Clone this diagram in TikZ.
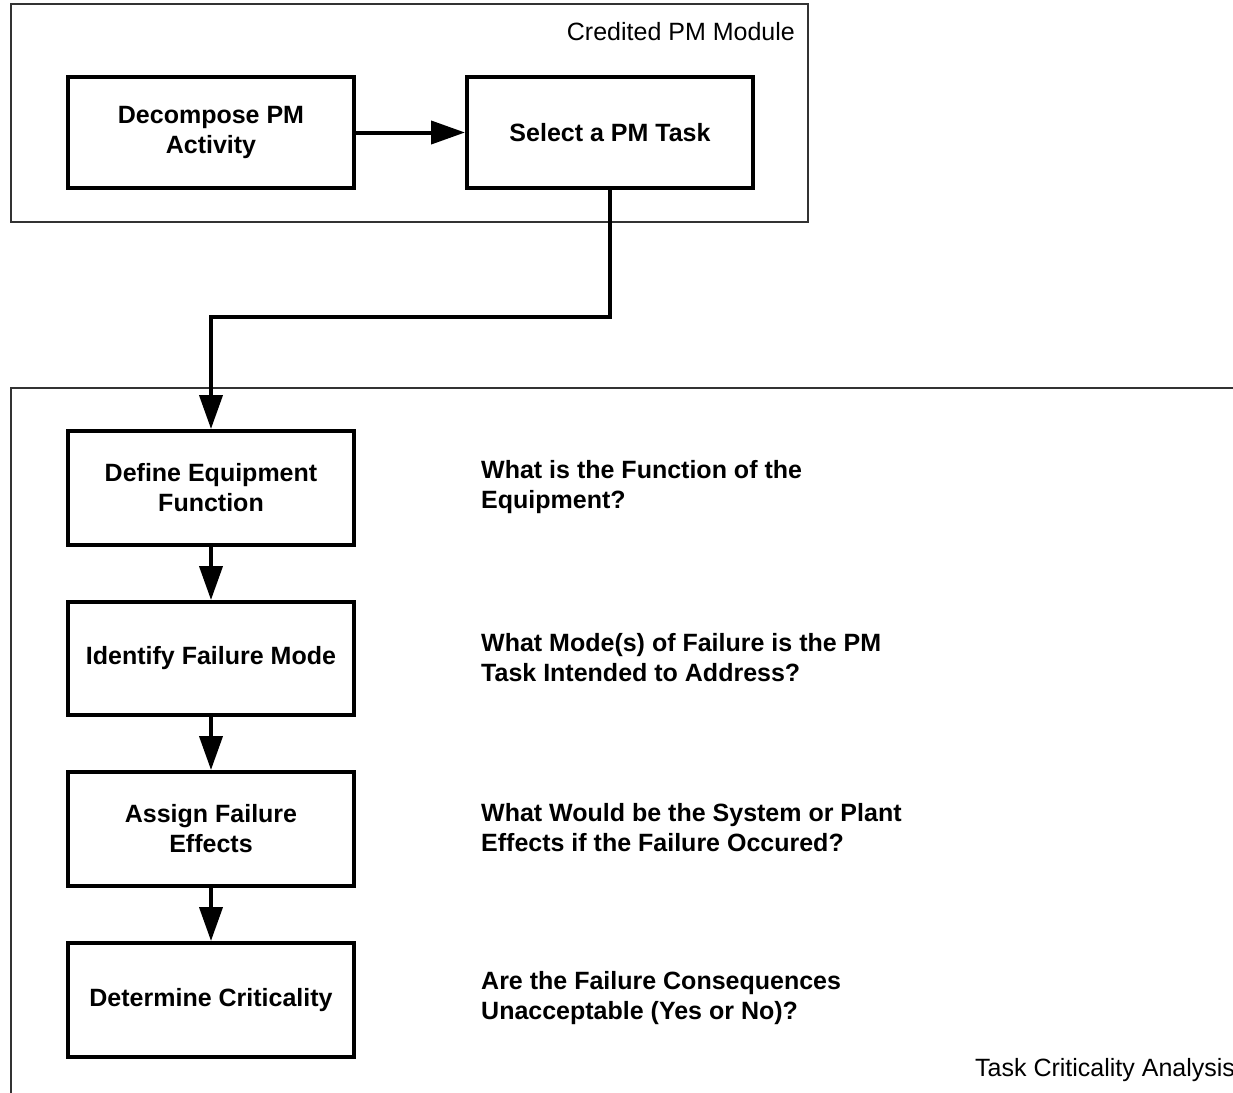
\documentclass[tikz,border=0pt]{standalone}
\usepackage{fontspec}
\setmainfont{Liberation Sans}
\usetikzlibrary{arrows.meta}
\tikzset{
  procbox/.style={draw=black, line width=4pt, minimum width=286pt, minimum height=112pt,
    inner sep=0pt, align=center, font=\fontsize{25}{30}\selectfont\bfseries, fill=white},
  flow/.style={line width=4pt, -{Triangle[length=34pt,width=23pt]}},
  group/.style={draw=black!80, line width=1.2pt},
  qtext/.style={anchor=west, align=left, inner sep=0pt, font=\fontsize{25}{30}\selectfont\bfseries},
  ltext/.style={inner sep=0pt, font=\fontsize{25}{30}\selectfont}
}
\begin{document}
\begin{tikzpicture}[x=1pt,y=-1pt]
\useasboundingbox (0,0) rectangle (1233,1092);
\clip (0,0) rectangle (1233,1092);
% containers
\draw[group] (11,4) rectangle (808,222);
\draw[group] (11,1110) -- (11,388) -- (1250,388);
\node[ltext, anchor=east] (lbltop) at (795,32) {Credited PM Module};
\node[ltext, anchor=west] (lblbot) at (975,1070) {Task Criticality Analysis};
% boxes
\node[procbox, minimum height=111pt] (decomp) at (211,132.5) {Decompose PM\\Activity};
\node[procbox, minimum height=111pt] (select) at (610,132.5) {Select a PM Task};
\node[procbox, minimum height=114pt] (define) at (211,488) {Define Equipment\\Function};
\node[procbox, minimum height=113pt] (ident) at (211,658.5) {Identify Failure Mode};
\node[procbox, minimum height=114pt] (assign) at (211,829) {Assign Failure\\Effects};
\node[procbox, minimum height=114pt] (determ) at (211,1000) {Determine Criticality};
% questions
\node[qtext] (q1) at (481,487.5) {What is the Function of the\\Equipment?};
\node[qtext] (q2) at (481,657.5) {What Mode(s) of Failure is the PM\\Task Intended to Address?};
\node[qtext] (q3) at (481,827.5) {What Would be the System or Plant\\Effects if the Failure Occured?};
\node[qtext] (q4) at (481,998.5) {Are the Failure Consequences\\Unacceptable (Yes or No)?};
% connectors
\coordinate (bend1) at (610,317);
\coordinate (bend2) at (211,317);
\draw[flow] (decomp.east) -- (select.west);
\draw[flow] (select.south) -- (bend1) -- (bend2) -- (define.north);
\draw[flow] (define.south) -- (ident.north);
\draw[flow] (ident.south) -- (assign.north);
\draw[flow] (assign.south) -- (determ.north);
\end{tikzpicture}
\end{document}
